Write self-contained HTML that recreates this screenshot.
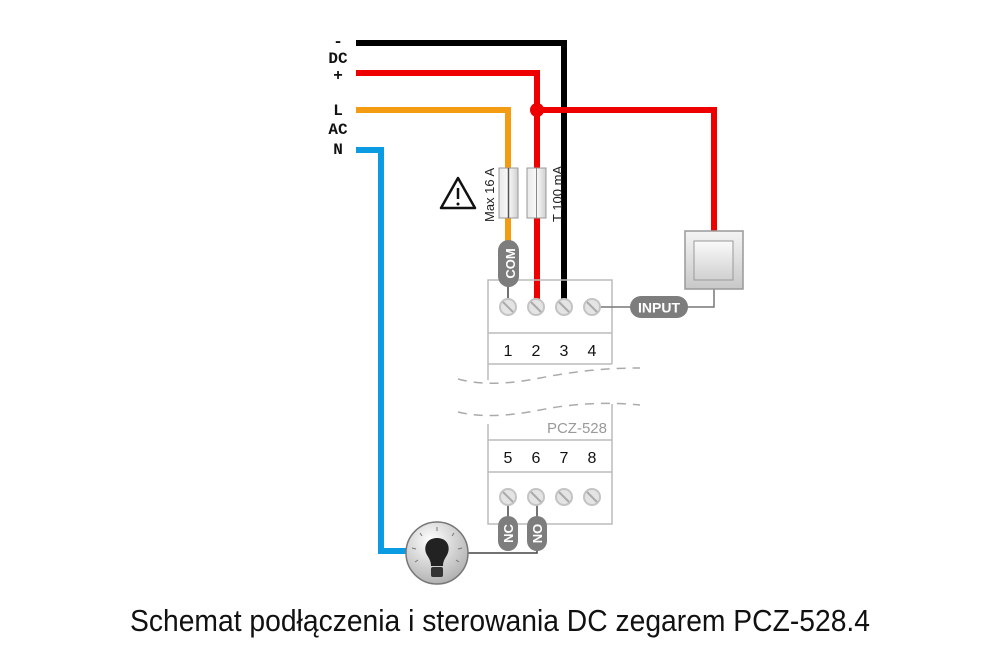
<!DOCTYPE html>
<html><head><meta charset="utf-8"><style>html,body{margin:0;padding:0;background:#fff}svg{display:block}</style></head>
<body>
<svg width="1000" height="667" viewBox="0 0 1000 667" xmlns="http://www.w3.org/2000/svg">
<defs>
<linearGradient id="sw" x1="0" y1="0" x2="0" y2="1"><stop offset="0" stop-color="#f4f4f4"/><stop offset="1" stop-color="#c8c8c8"/></linearGradient>
<linearGradient id="swi" x1="0" y1="0" x2="0" y2="1"><stop offset="0" stop-color="#fafafa"/><stop offset="1" stop-color="#d0d0d0"/></linearGradient>
<radialGradient id="bulb" cx="0.4" cy="0.3" r="0.8"><stop offset="0" stop-color="#ffffff"/><stop offset="1" stop-color="#a8a8a8"/></radialGradient>
<linearGradient id="fuse" x1="0" y1="0" x2="1" y2="0"><stop offset="0" stop-color="#e8e8e8"/><stop offset="0.5" stop-color="#fafafa"/><stop offset="1" stop-color="#cfcfcf"/></linearGradient>
</defs>
<g font-family="Liberation Mono, monospace" font-weight="bold" font-size="16" fill="#111" text-anchor="middle">
<text x="338" y="46">-</text><text x="338" y="63">DC</text><text x="338" y="80">+</text>
<text x="338" y="115">L</text><text x="338" y="134">AC</text><text x="338" y="154">N</text>
</g>
<g fill="none" stroke-width="6" stroke-linejoin="miter">
<polyline points="356,43 564,43 564,300" stroke="#000"/>
<polyline points="356,73 537,73 537,300" stroke="#ee0000"/>
<polyline points="537,110 714,110 714,232" stroke="#ee0000"/>
<polyline points="356,110 508,110 508,245" stroke="#f39c12"/>
<polyline points="356,150 381,150 381,551 410,551" stroke="#0b9be3"/>
</g>
<circle cx="537" cy="110" r="7" fill="#ee0000"/>
<rect x="499" y="168" width="19" height="50" fill="url(#fuse)" stroke="#999"/>
<line x1="508.5" y1="168" x2="508.5" y2="218" stroke="#555" stroke-width="1.5"/>
<rect x="527" y="168" width="19" height="50" fill="url(#fuse)" stroke="#999"/>
<line x1="536.5" y1="168" x2="536.5" y2="218" stroke="#888" stroke-width="1"/>
<g font-family="Liberation Sans, sans-serif" font-size="13" fill="#222">
<text transform="translate(494,222) rotate(-90)">Max 16 A</text>
<text transform="translate(562,222) rotate(-90)">T 100 mA</text>
</g>
<path d="M458,178 L475,208 L441,208 Z" fill="none" stroke="#111" stroke-width="2.5" stroke-linejoin="round"/>
<line x1="458" y1="188" x2="458" y2="199" stroke="#111" stroke-width="2.5"/>
<circle cx="458" cy="204" r="1.5" fill="#111"/>
<path d="M488,380 L488,280 L612,280 L612,364" fill="none" stroke="#bbb" stroke-width="1.5"/>
<line x1="488" y1="333" x2="612" y2="333" stroke="#bbb" stroke-width="1.5"/>
<line x1="488" y1="364" x2="612" y2="364" stroke="#bbb" stroke-width="1.5"/>
<path d="M458,379 Q490,388 540,378 T640,368" fill="none" stroke="#aaa" stroke-width="1.5" stroke-dasharray="9,7"/>
<path d="M458,412 Q490,420 540,410 T640,405" fill="none" stroke="#aaa" stroke-width="1.5" stroke-dasharray="9,7"/>
<path d="M488,424 L488,524 L612,524 L612,404" fill="none" stroke="#bbb" stroke-width="1.5"/>
<line x1="488" y1="440" x2="612" y2="440" stroke="#bbb" stroke-width="1.5"/>
<line x1="488" y1="472" x2="612" y2="472" stroke="#bbb" stroke-width="1.5"/>
<text x="607" y="433" font-family="Liberation Sans, sans-serif" font-size="15" fill="#999" text-anchor="end">PCZ-528</text>
<g font-family="Liberation Sans, sans-serif" font-size="16" fill="#111" text-anchor="middle">
<text x="508" y="356">1</text><text x="536" y="356">2</text><text x="564" y="356">3</text><text x="592" y="356">4</text>
<text x="508" y="463">5</text><text x="536" y="463">6</text><text x="564" y="463">7</text><text x="592" y="463">8</text>
</g>
<line x1="508" y1="285" x2="508" y2="300" stroke="#444" stroke-width="1.5"/>
<polyline points="600,307 632,307" fill="none" stroke="#777" stroke-width="1.5"/>
<polyline points="686,307 714,307 714,288" fill="none" stroke="#777" stroke-width="1.5"/>
<line x1="508" y1="504" x2="508" y2="518" stroke="#444" stroke-width="1.5"/>
<line x1="537" y1="504" x2="537" y2="518" stroke="#444" stroke-width="1.5"/>
<polyline points="466,553 537,553 537,545" fill="none" stroke="#444" stroke-width="1.5"/>
<g fill="#e4e4e4" stroke="#c4c4c4" stroke-width="2">
<circle cx="508" cy="307" r="8"/><circle cx="536" cy="307" r="8"/><circle cx="564" cy="307" r="8"/><circle cx="592" cy="307" r="8"/>
<circle cx="508" cy="497" r="8"/><circle cx="536" cy="497" r="8"/><circle cx="564" cy="497" r="8"/><circle cx="592" cy="497" r="8"/>
</g>
<g stroke="#aaa" stroke-width="2">
<line x1="503" y1="302" x2="513" y2="312"/><line x1="531" y1="302" x2="541" y2="312"/><line x1="559" y1="302" x2="569" y2="312"/><line x1="587" y1="302" x2="597" y2="312"/>
<line x1="503" y1="492" x2="513" y2="502"/><line x1="531" y1="492" x2="541" y2="502"/><line x1="559" y1="492" x2="569" y2="502"/><line x1="587" y1="492" x2="597" y2="502"/>
</g>
<rect x="498" y="240" width="21" height="47" rx="10.5" fill="#7d7d7d"/>
<text transform="translate(515,263.5) rotate(-90)" font-family="Liberation Sans, sans-serif" font-weight="bold" font-size="13" fill="#fff" text-anchor="middle">COM</text>
<rect x="630" y="296" width="58" height="22" rx="11" fill="#7d7d7d"/>
<text x="659" y="312.5" font-family="Liberation Sans, sans-serif" font-weight="bold" font-size="14" fill="#fff" text-anchor="middle">INPUT</text>
<rect x="498" y="516" width="20" height="35" rx="10" fill="#7d7d7d"/>
<text transform="translate(513,533.5) rotate(-90)" font-family="Liberation Sans, sans-serif" font-weight="bold" font-size="13" fill="#fff" text-anchor="middle">NC</text>
<rect x="527" y="516" width="20" height="35" rx="10" fill="#7d7d7d"/>
<text transform="translate(542,533.5) rotate(-90)" font-family="Liberation Sans, sans-serif" font-weight="bold" font-size="13" fill="#fff" text-anchor="middle">NO</text>
<rect x="685" y="231" width="58" height="58" fill="url(#sw)" stroke="#999" stroke-width="1.5"/>
<rect x="694" y="241" width="39" height="39" fill="url(#swi)" stroke="#999" stroke-width="1"/>
<circle cx="437" cy="553" r="31" fill="url(#bulb)" stroke="#777" stroke-width="1.5"/>
<path d="M437,538 C426,538 423,548 427,555 C430,560 431,562 431,566 L443,566 C443,562 444,560 447,555 C451,548 448,538 437,538 Z" fill="#222"/>
<rect x="431" y="567" width="12" height="10" rx="2" fill="#333"/>
<g stroke="#777" stroke-width="1">
<line x1="437" y1="527" x2="437" y2="531"/><line x1="420" y1="533" x2="422" y2="536"/><line x1="454" y1="533" x2="452" y2="536"/>
<line x1="412" y1="548" x2="416" y2="549"/><line x1="462" y1="548" x2="458" y2="549"/>
<line x1="415" y1="562" x2="418" y2="560"/><line x1="459" y1="562" x2="456" y2="560"/>
</g>
<text x="500" y="631" font-family="Liberation Sans, sans-serif" font-size="31" fill="#111" text-anchor="middle" textLength="740" lengthAdjust="spacingAndGlyphs">Schemat podłączenia i sterowania DC zegarem PCZ-528.4</text>
</svg>
</body></html>
